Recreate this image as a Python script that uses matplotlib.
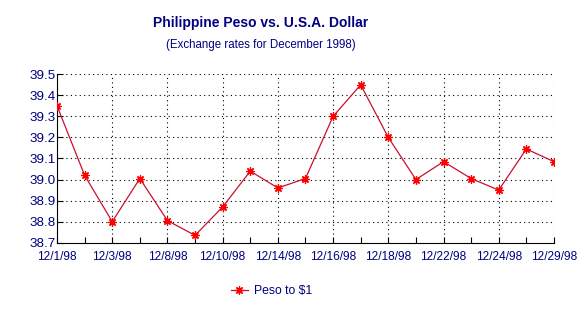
import matplotlib
matplotlib.use("Agg")
import matplotlib.pyplot as plt

dates = ['12/1/98', '12/2/98', '12/3/98', '12/7/98', '12/8/98', '12/9/98',
         '12/10/98', '12/11/98', '12/14/98', '12/15/98', '12/16/98', '12/17/98',
         '12/18/98', '12/21/98', '12/22/98', '12/23/98', '12/24/98', '12/28/98',
         '12/29/98']
peso = [39.35, 39.02, 38.80, 39.005, 38.805, 38.735, 38.87, 39.04, 38.96,
        39.005, 39.30, 39.45, 39.20, 39.00, 39.085, 39.005, 38.95, 39.145,
        39.085]
y_ticks = [38.7, 38.8, 38.9, 39.0, 39.1, 39.2, 39.3, 39.4, 39.5]

navy = '#000080'
plt.rcParams['font.family'] = ['Liberation Sans', 'DejaVu Sans']

fig = plt.figure(figsize=(5.86, 3.12), dpi=100)
ax = fig.add_axes([0.0973, 0.222, 0.848, 0.540])

x = list(range(len(dates)))
ax.plot(x, peso, color='#c8102e', linewidth=0.9, marker=(8, 2, 0),
        markersize=6, markeredgewidth=0.9, markeredgecolor='#ff0000',
        markerfacecolor='#ff0000', label='Peso to $1', zorder=3)

ax.set_xlim(0, len(dates) - 1)
ax.set_ylim(38.7, 39.5)
ax.set_yticks(y_ticks)
ax.set_yticklabels([f'{v:.1f}' for v in y_ticks], color=navy, fontsize=9.6)
ax.set_xticks(x)
ax.set_xticklabels([d if i % 2 == 0 else '' for i, d in enumerate(dates)],
                   color=navy, fontsize=8.6)
ax.tick_params(axis='both', direction='in', length=4, width=0.8, pad=1)
ax.tick_params(axis='x', pad=6)

for spine in ['top', 'right']:
    ax.spines[spine].set_visible(False)

for v in y_ticks[1:]:
    ax.axhline(v, color='black', linestyle=(0, (1, 3)), linewidth=0.8, zorder=1)
for i in x[2::2]:
    ax.axvline(i, color='black', linestyle=(0, (1, 3)), linewidth=0.8, zorder=1)

fig.text(0.445, 0.927, 'Philippine Peso vs. U.S.A. Dollar', ha='center',
         va='center', fontsize=10, fontweight='bold', color=navy)
fig.text(0.445, 0.856, '(Exchange rates for December 1998)', ha='center',
         va='center', fontsize=8.3, color=navy)

leg = fig.legend(loc='center', bbox_to_anchor=(0.463, 0.068), frameon=False,
                 fontsize=8.8, handlelength=1.4, handletextpad=0.5)
for t in leg.get_texts():
    t.set_color(navy)

fig.savefig('out.png', dpi=100)
